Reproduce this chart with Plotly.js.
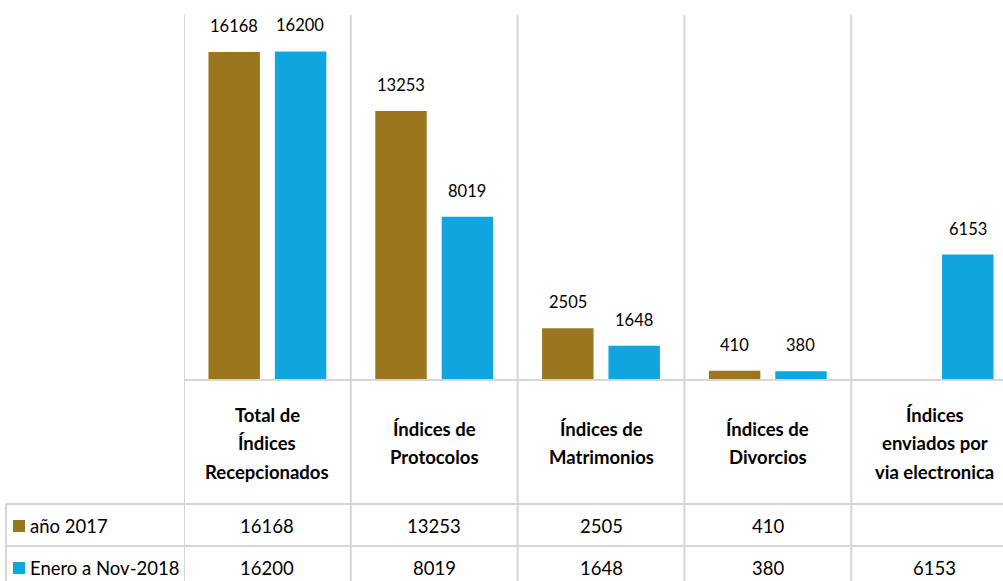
<!DOCTYPE html>
<html>
<head>
<meta charset="utf-8">
<script src="https://cdn.plot.ly/plotly-3.0.1.min.js"></script>
<style>
html,body{margin:0;padding:0;overflow:hidden;background:#fff;width:1003px;height:581px;}
#chart{width:1020px;height:581px;}
</style>
</head>
<body>
<div id="chart"></div>
<script>
// ---- data ----
const categories = [
  "Total de<br>Índices<br>Recepcionados",
  "Índices de<br>Protocolos",
  "Índices de<br>Matrimonios",
  "Índices de<br>Divorcios",
  "Índices<br>enviados por<br>via electronica"
];
const seriesNames = ["año 2017", "Enero a Nov-2018"];
const values2017 = [16168, 13253, 2505, 410, null];
const values2018 = [16200, 8019, 1648, 380, 6153];

// ---- styling / layout helpers ----
const colors = ["#9C761E", "#10A5DE"];
const W = 1020, H = 581;
const mL = 184, mR = 2, mT = 15, mB = 202;
const plotH = H - mT - mB;
const plotW = W - mL - mR;
const py = p => (H - mB - p) / plotH;      // pixel y -> paper y
const px = p => (p - mL) / plotW;           // pixel x -> paper x
const gridColor = "#D6D6D6";
const FONT = "Lato, 'Open Sans', sans-serif";

const idx = categories.map((_, i) => i);
const allSeries = [values2017, values2018];

const traces = allSeries.map((vals, s) => ({
  type: "bar",
  x: idx,
  y: vals,
  name: seriesNames[s],
  marker: { color: colors[s] },
  hoverinfo: "skip"
}));

const shapes = [];
const annotations = [];

// vertical grid / table lines at category boundaries
for (let i = 0; i <= categories.length; i++) {
  shapes.push({ type: "line", xref: "x", yref: "paper", x0: i - 0.5, x1: i - 0.5,
    y0: 1, y1: py(590), line: { color: gridColor, width: 2 }, layer: "below" });
}
// left table border
shapes.push({ type: "line", xref: "paper", yref: "paper", x0: px(6), x1: px(6),
  y0: py(504), y1: py(590), line: { color: gridColor, width: 2 } });
// horizontal table lines
[504, 546].forEach(p => {
  shapes.push({ type: "line", xref: "paper", yref: "paper", x0: px(6), x1: 1.05,
    y0: py(p), y1: py(p), line: { color: gridColor, width: 2 } });
});

// data labels above bars
const offs = [-33, 33];
allSeries.forEach((vals, s) => {
  vals.forEach((v, i) => {
    if (v === null) return;
    annotations.push({ xref: "x", yref: "y", x: i, y: v, xshift: offs[s], yshift: 26,
      text: String(v), showarrow: false, yanchor: "middle",
      font: { family: FONT, size: 16.5, color: "#000" } });
  });
});

// category headers (one annotation per line)
const lineGap = 28.5, headerMid = 443;
categories.forEach((c, i) => {
  const lines = c.split("<br>");
  lines.forEach((ln, k) => {
    const yp = headerMid + (k - (lines.length - 1) / 2) * lineGap;
    annotations.push({ xref: "x", yref: "paper", x: i, y: py(yp), text: ln,
      showarrow: false, yanchor: "middle",
      font: { family: FONT, size: 18.5, color: "#000", weight: "bold" } });
  });
});

// table rows
const rowMid = [526, 568];
allSeries.forEach((vals, s) => {
  // legend key
  shapes.push({ type: "rect", xref: "paper", yref: "paper",
    x0: px(13), x1: px(25), y0: py(rowMid[s] - 6), y1: py(rowMid[s] + 6),
    fillcolor: colors[s], line: { width: 0 } });
  annotations.push({ xref: "paper", yref: "paper", x: px(28), y: py(rowMid[s]),
    text: seriesNames[s], showarrow: false, xanchor: "left", yanchor: "middle",
    font: { family: FONT, size: 18.5, color: "#000" } });
  vals.forEach((v, i) => {
    if (v === null) return;
    annotations.push({ xref: "x", yref: "paper", x: i, y: py(rowMid[s]),
      text: String(v), showarrow: false, yanchor: "middle",
      font: { family: FONT, size: 18.5, color: "#000" } });
  });
});

const layout = {
  width: W, height: H,
  margin: { l: mL, r: mR, t: mT, b: mB, pad: 0 },
  paper_bgcolor: "#fff", plot_bgcolor: "rgba(0,0,0,0)",
  barmode: "group", bargap: 0.204, bargroupgap: 0.225,
  showlegend: false,
  xaxis: { range: [-0.5, categories.length - 0.5], showticklabels: false, ticks: "",
    showgrid: false, zeroline: false, showline: true, linecolor: gridColor, linewidth: 2, fixedrange: true },
  yaxis: { range: [0, 18000], visible: false, showgrid: false, zeroline: false, fixedrange: true },
  shapes, annotations
};

Plotly.newPlot("chart", traces, layout, { displayModeBar: false, staticPlot: true });
</script>
</body>
</html>
